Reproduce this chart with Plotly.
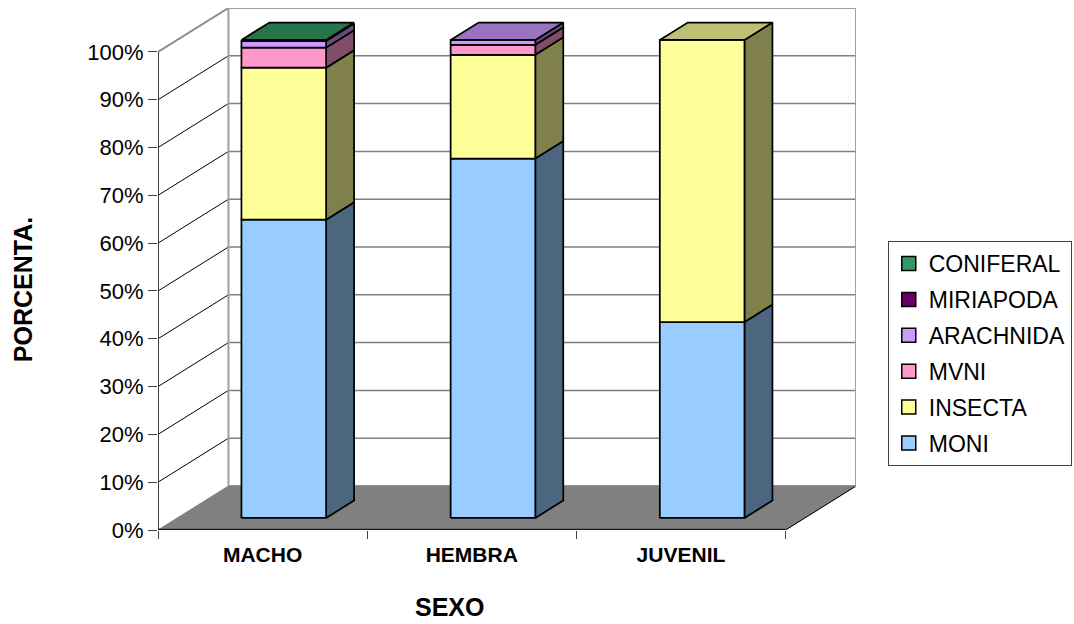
import plotly.graph_objects as go

# Diet composition by sex, percent of each group
categories = ["MACHO", "HEMBRA", "JUVENIL"]
moni = [62.4, 75.2, 41.0]
insecta = [31.8, 21.7, 59.0]
mvni = [4.2, 2.1, 0.0]
arachnida = [1.4, 1.0, 0.0]
miriapoda = [0.1, 0.0, 0.0]
coniferal = [0.1, 0.0, 0.0]

series_names = ["MONI", "INSECTA", "MVNI", "ARACHNIDA", "MIRIAPODA", "CONIFERAL"]
series_values = [moni, insecta, mvni, arachnida, miriapoda, coniferal]
series_colors = ["#99CCFF", "#FFFF99", "#FF99CC", "#CC99FF", "#660066", "#339966"]
percent_ticks = list(range(0, 101, 10))

# Oblique projection: the depth axis shifts points right and up in data units
DEPTH_X = 0.3368
DEPTH_Y = 9.2
BAR_START = 0.307
BAR_WIDTH = 0.4047
BAR_NEAR = 0.273
BAR_FAR = 0.67


def project(x, y, depth):
    return x + depth * DEPTH_X, y + depth * DEPTH_Y


def shade(color, factor):
    rgb = [int(color[i:i + 2], 16) for i in (1, 3, 5)]
    return "rgb({},{},{})".format(*[round(c * factor) for c in rgb])


def polygon(points, fill, line_color="black", line_width=1.75):
    xs, ys = zip(*(points + points[:1]))
    return go.Scatter(
        x=xs, y=ys, mode="lines", fill="toself", fillcolor=fill,
        line=dict(color=line_color, width=line_width),
        hoverinfo="skip", showlegend=False, cliponaxis=False,
    )


def segment(x, y, color, width):
    return go.Scatter(
        x=x, y=y, mode="lines", line=dict(color=color, width=width),
        hoverinfo="skip", showlegend=False, cliponaxis=False,
    )


fig = go.Figure()
n = len(categories)

# Floor of the chart box
floor = [(0, 0), (n, 0), project(n, 0, 1), project(0, 0, 1)]
fig.add_trace(polygon(floor, "#808080", "#808080", 1))
fig.add_trace(segment([n, n + DEPTH_X], [0, DEPTH_Y], "black", 1))

# Back wall grid and left wall diagonals
for tick in percent_ticks:
    if tick > 0:
        color, width = ("#8c8c8c", 2) if tick == 100 else ("black", 1)
        fig.add_trace(segment([0, DEPTH_X], [tick, tick + DEPTH_Y], color, width))
    fig.add_trace(segment([DEPTH_X, n + DEPTH_X], [tick + DEPTH_Y] * 2, "#808080", 1.5))
top_back = 100 + DEPTH_Y
fig.add_trace(segment([DEPTH_X, DEPTH_X], [DEPTH_Y, top_back], "#a0a0a0", 2))
fig.add_trace(segment([n + DEPTH_X, n + DEPTH_X], [DEPTH_Y, top_back], "#a0a0a0", 2))
fig.add_trace(segment([DEPTH_X, n + DEPTH_X], [top_back, top_back], "#a0a0a0", 2))

# Stacked prisms, bottom segment first, each with its side face
for i in range(n):
    x0 = i + BAR_START
    x1 = x0 + BAR_WIDTH
    base = 0.0
    top_color = series_colors[0]
    for values, color in zip(series_values, series_colors):
        value = values[i]
        if value <= 0:
            continue
        top = base + value
        fig.add_trace(polygon(
            [project(x1, base, BAR_NEAR), project(x1, base, BAR_FAR),
             project(x1, top, BAR_FAR), project(x1, top, BAR_NEAR)],
            shade(color, 0.5),
        ))
        fig.add_trace(polygon(
            [project(x0, base, BAR_NEAR), project(x1, base, BAR_NEAR),
             project(x1, top, BAR_NEAR), project(x0, top, BAR_NEAR)],
            color,
        ))
        base = top
        top_color = color
    fig.add_trace(polygon(
        [project(x0, base, BAR_NEAR), project(x1, base, BAR_NEAR),
         project(x1, base, BAR_FAR), project(x0, base, BAR_FAR)],
        shade(top_color, 0.75),
    ))

# Front axis lines
fig.add_trace(segment([0, 0], [0, 100], "#404040", 2))
fig.add_trace(segment([0, n], [0, 0], "#1a1a1a", 2.5))

# Legend entries, listed from the top of the stack downwards
for name, color in reversed(list(zip(series_names, series_colors))):
    fig.add_trace(go.Scatter(
        x=[None], y=[None], mode="markers", name=name, legendgroup=name,
        marker=dict(symbol="square", size=14, color=color,
                    line=dict(color="black", width=1.5)),
    ))

fig.update_layout(
    width=1074, height=624, autosize=False,
    margin=dict(l=157.5, r=218, t=8, b=94, autoexpand=False),
    paper_bgcolor="white", plot_bgcolor="white",
    font=dict(family="Liberation Sans", color="black"),
    xaxis=dict(
        range=[0, n + DEPTH_X], showgrid=False, zeroline=False, showline=False,
        tickmode="array", tickvals=[i + 0.5 for i in range(n)], ticktext=categories,
        ticks="outside", ticklen=0, tickcolor="rgba(0,0,0,0)", ticklabelstandoff=6,
        tickfont=dict(size=21, family="Liberation Sans", weight="bold"),
        minor=dict(tickmode="array", tickvals=list(range(n + 1)), ticks="outside",
                   ticklen=8, tickwidth=1, tickcolor="#404040", showgrid=False),
    ),
    yaxis=dict(
        range=[0, top_back], showgrid=False, zeroline=False, showline=False,
        tickmode="array", tickvals=percent_ticks,
        ticktext=[f"{t}%" for t in percent_ticks],
        ticks="outside", ticklen=9, tickwidth=1, tickcolor="#404040",
        tickfont=dict(size=22),
    ),
    legend=dict(
        x=1.0455, xanchor="left", y=0.338, yanchor="middle",
        traceorder="grouped", tracegroupgap=3, itemclick=False,
        bgcolor="white", bordercolor="#404040", borderwidth=1,
        font=dict(size=23),
    ),
    annotations=[
        dict(text="<b>PORCENTA.</b>", textangle=-90, xref="paper", yref="paper",
             x=-0.193, y=0.46, xanchor="center", yanchor="middle", showarrow=False,
             font=dict(size=25)),
        dict(text="<b>SEXO</b>", xref="paper", yref="paper",
             x=0.4173, y=-0.178, xanchor="center", yanchor="bottom", showarrow=False,
             font=dict(size=25)),
    ],
)

fig.write_html("out.html")
